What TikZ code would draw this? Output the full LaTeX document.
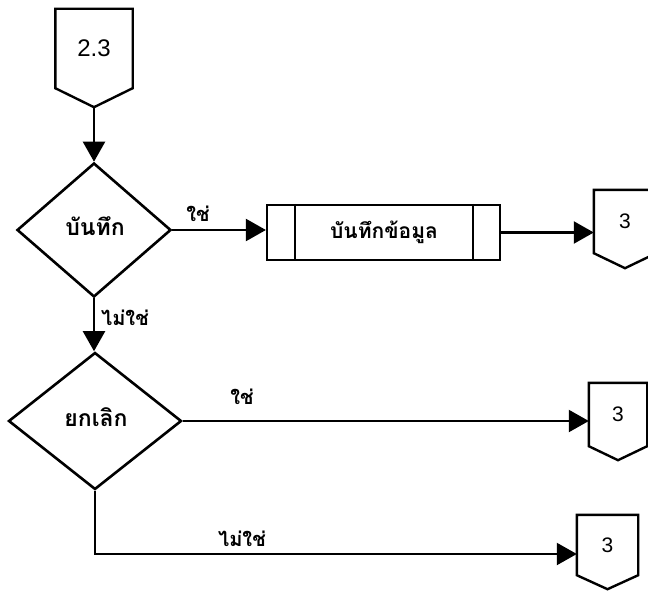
\documentclass[tikz,border=0pt]{standalone}
\usepackage{fontspec}
\setmainfont{Liberation Sans}
\newfontfamily\thaifont[Script=Thai]{Loma}
\usetikzlibrary{shapes.geometric,arrows.meta,calc}
\begin{document}
\begin{tikzpicture}[x=1pt,y=-1pt,
  line/.style={line width=2.2pt,draw=black},
  arr/.style={line, -{Triangle[length=20pt,width=22pt]}},
  dec/.style={diamond,line width=2.6pt,draw=black,inner sep=0pt},
  conn/.style={rectangle,inner sep=0pt,font=\fontsize{21}{24}\selectfont},
  thtxt/.style={font=\thaifont\bfseries\fontsize{23}{26}\selectfont},
  lbl/.style={font=\thaifont\bfseries\fontsize{20}{23}\selectfont,inner sep=1pt}]
\useasboundingbox (0,0) rectangle (648,591);
% off-page connector 2.3
\node[conn,minimum width=77pt,minimum height=79pt,font=\fontsize{24}{28}\selectfont] (c23) at (94,48.5) {2.3};
\coordinate (c23tip) at ($(c23.south)+(0,19)$);
\draw[line,line width=2.4pt] (c23.north west) -- (c23.south west) -- (c23tip) -- (c23.south east) -- (c23.north east) -- cycle;
% decision 1
\node[dec,minimum width=154pt,minimum height=134pt] (d1) at (94,230) {};
\node[thtxt] (d1t) at (95,226) {บันทึก};
\draw[arr] (c23tip) -- (d1.north);
% process
\node[rectangle,line width=2.2pt,draw=black,minimum width=233pt,minimum height=55pt,inner sep=0pt] (p1) at (383.5,232.5) {};
\node[thtxt,font=\thaifont\bfseries\fontsize{21}{24}\selectfont] (p1t) at (384,232) {บันทึกข้อมูล};
\draw[line] ($(p1.north west)+(29,0)$) -- ($(p1.south west)+(29,0)$);
\draw[line] ($(p1.north east)+(-28,0)$) -- ($(p1.south east)+(-28,0)$);
\draw[arr] (d1.east) -- (d1.east -| p1.west);
\node[lbl] (l1) at (198,214) {ใช่};
% connector 3 (top right)
\node[conn,minimum width=62pt,minimum height=63pt] (c3a) at (625,221.5) {3};
\draw[line,line width=2.4pt] (c3a.north west) -- (c3a.south west) -- ($(c3a.south)+(0,15)$) -- (c3a.south east) -- (c3a.north east) -- cycle;
\draw[arr] (p1.east) -- (p1.east -| c3a.west);
% decision 2
\node[dec,minimum width=173pt,minimum height=137pt] (d2) at (95,421) {};
\node[thtxt] (d2t) at (96,417) {ยกเลิก};
\draw[arr] (d1.south) -- (d1.south |- d2.north);
\node[lbl] (l2) at (125,318) {ไม่ใช่};
% connector 3 (middle)
\node[conn,minimum width=58pt,minimum height=63pt] (c3b) at (618,414.5) {3};
\draw[line,line width=2.4pt] (c3b.north west) -- (c3b.south west) -- ($(c3b.south)+(0,14)$) -- (c3b.south east) -- (c3b.north east) -- cycle;
\draw[arr] (d2.east) -- (d2.east -| c3b.west);
\node[lbl] (l3) at (242,397) {ใช่};
% connector 3 (bottom)
\node[conn,minimum width=61pt,minimum height=60pt] (c3c) at (607.5,545) {3};
\draw[line,line width=2.4pt] (c3c.north west) -- (c3c.south west) -- ($(c3c.south)+(0,14)$) -- (c3c.south east) -- (c3c.north east) -- cycle;
\coordinate (bend) at (95,554);
\draw[arr] (d2.south) -- (bend) -- (bend -| c3c.west);
\node[lbl] (l4) at (242,539) {ไม่ใช่};
\end{tikzpicture}
\end{document}
